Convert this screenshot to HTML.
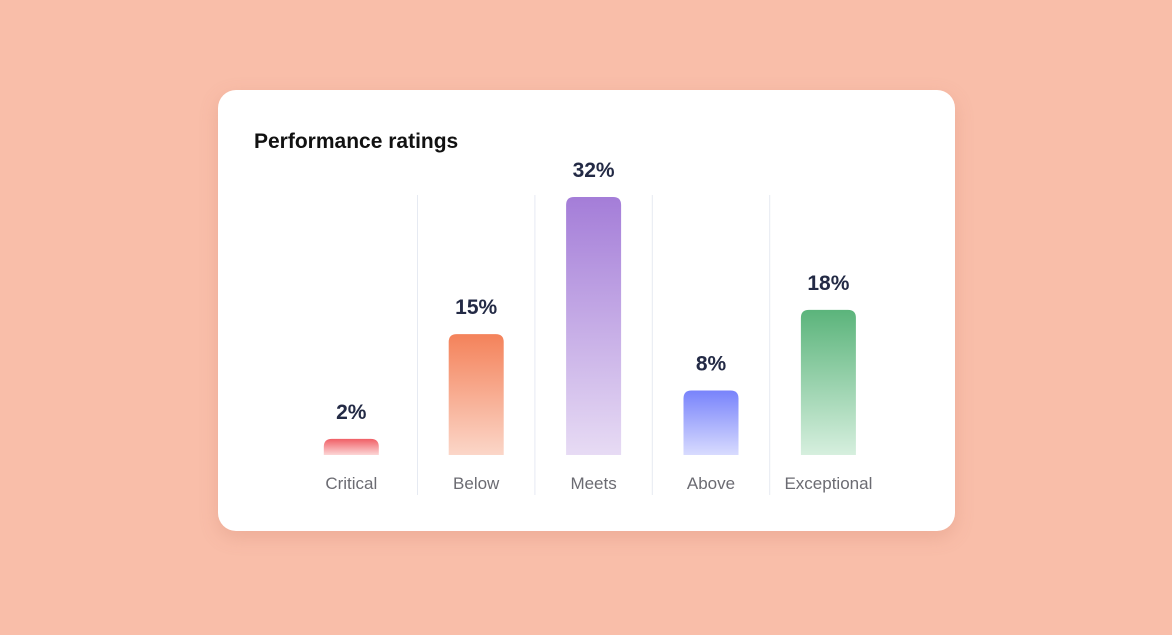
<!DOCTYPE html>
<html><head><meta charset="utf-8"><style>
html,body{margin:0;padding:0;}
body{width:1172px;height:635px;background:#f9bea9;font-family:"Liberation Sans",sans-serif;position:relative;overflow:hidden;}
#card{position:absolute;left:218px;top:90px;width:737px;height:441px;background:#fff;border-radius:18px;box-shadow:0 6px 18px rgba(200,120,100,0.25);}
#title{position:absolute;left:36px;top:40px;font-size:21px;font-weight:bold;color:#111;}
svg{position:absolute;left:0;top:0;}
</style></head><body>
<div id="card">
<div id="title">Performance ratings</div>
</div>
<svg id="chart" width="1172" height="635">
<defs id="defs"></defs>
</svg>
<script>
const categories = ["Critical","Below","Meets","Above","Exceptional"];
const values = [2, 15, 32, 8, 18];
const labels = ["2%","15%","32%","8%","18%"];
const topColors = ["#f05f66","#f4825a","#a47dd8","#7883fb","#5bb47b"];
const bottomColors = ["#fcd6d6","#fbd6c8","#e7dbf4","#d8dbfe","#d6efde"];

const svg = document.getElementById('chart');
const defs = document.getElementById('defs');
const NS = "http://www.w3.org/2000/svg";
const x0 = 358.8, step = 117.4, barW = 55, baseY = 455, pxPer = 258/32;
const xPos = i => x0 + i*step;
const barX = i => i === 0 ? xPos(0) - 7.5 : xPos(i);
const yPos = v => baseY - v*pxPer;

for (let i=1;i<categories.length;i++){
  const l = document.createElementNS(NS,'line');
  const sx = (xPos(i-1)+xPos(i))/2;
  l.setAttribute('x1',sx);l.setAttribute('x2',sx);l.setAttribute('y1',195);l.setAttribute('y2',495);
  l.setAttribute('stroke','#e6eaf2');l.setAttribute('stroke-width','1');
  
  
  svg.appendChild(l);
}
categories.forEach((c,i)=>{
  const g = document.createElementNS(NS,'linearGradient');
  g.setAttribute('id','g'+i);g.setAttribute('x1',0);g.setAttribute('y1',0);g.setAttribute('x2',0);g.setAttribute('y2',1);
  g.innerHTML = `<stop offset="0" stop-color="${topColors[i]}"/><stop offset="1" stop-color="${bottomColors[i]}"/>`;
  defs.appendChild(g);
  const cx = barX(i), top = yPos(values[i]), h = baseY-top, r = Math.min(8,h/2);
  const p = document.createElementNS(NS,'path');
  const x = cx-barW/2;
  p.setAttribute('d',`M${x},${baseY} L${x},${top+r} Q${x},${top} ${x+r},${top} L${x+barW-r},${top} Q${x+barW},${top} ${x+barW},${top+r} L${x+barW},${baseY} Z`);
  p.setAttribute('fill',`url(#g${i})`);
  
  
  svg.appendChild(p);
  const t = document.createElementNS(NS,'text');
  t.setAttribute('x',cx);t.setAttribute('y',top-20);t.setAttribute('text-anchor','middle');
  t.setAttribute('font-size','21');t.setAttribute('font-weight','bold');t.setAttribute('fill','#232a45');
  t.setAttribute('font-family','Liberation Sans, sans-serif');
  t.textContent = labels[i];
  
  
  svg.appendChild(t);
  const t2 = document.createElementNS(NS,'text');
  t2.setAttribute('x',cx);t2.setAttribute('y',489);t2.setAttribute('text-anchor','middle');
  t2.setAttribute('font-size','17');t2.setAttribute('fill','#6b6b72');
  t2.setAttribute('font-family','Liberation Sans, sans-serif');
  t2.textContent = c;
  
  
  svg.appendChild(t2);
});
</script>
</body></html>
